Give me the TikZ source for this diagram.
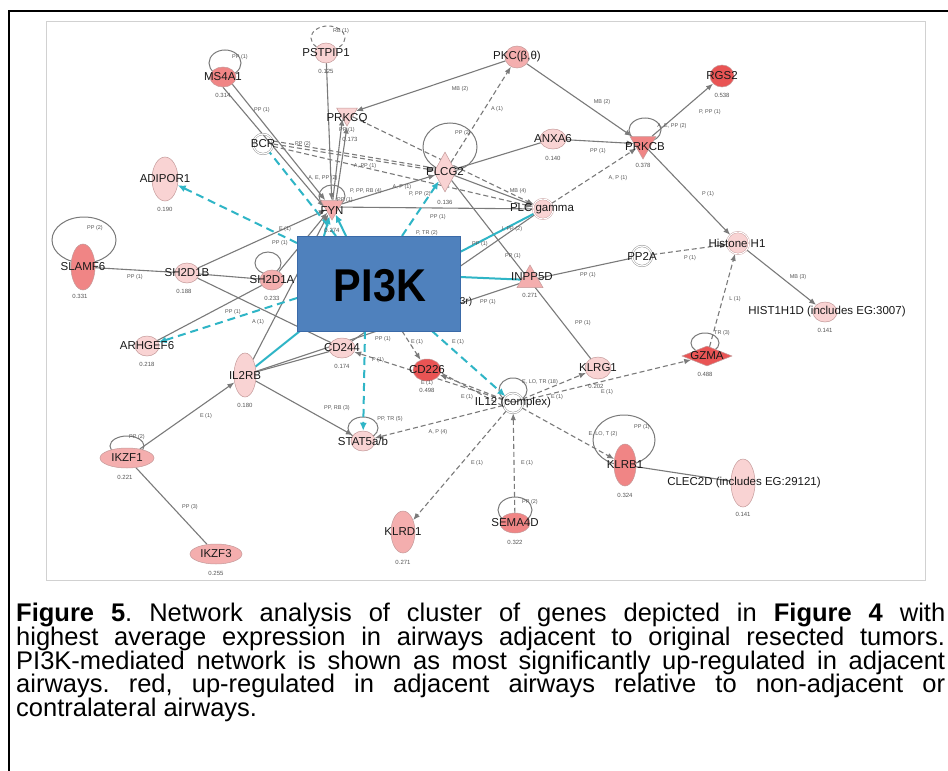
\documentclass[tikz,border=0pt]{standalone}
\usepackage{fontspec}
\setmainfont{Liberation Sans}
\frenchspacing
\usetikzlibrary{shapes.geometric,arrows.meta}
\definecolor{lp}{HTML}{F9D3D3}
\definecolor{mp}{HTML}{F4AEAE}
\definecolor{pr}{HTML}{F08585}
\definecolor{rd}{HTML}{E95454}
\definecolor{nout}{HTML}{C49A9A}
\definecolor{eg}{HTML}{7A7A7A}
\definecolor{cy}{HTML}{2FB5C6}
\definecolor{boxblue}{HTML}{4F81BD}
\definecolor{boxline}{HTML}{3A6AA8}
\definecolor{labg}{HTML}{555555}
\pgfdeclarelayer{bg}
\pgfsetlayers{bg,main}
\tikzset{
  gene/.style={ellipse, draw=nout, line width=0.5pt, inner sep=0, fill=lp},
  cplx/.style={circle, draw=eg, line width=0.4pt, double=white, double distance=1.2pt, inner sep=0, minimum size=20},
  dtri/.style={regular polygon, regular polygon sides=3, shape border rotate=180, draw=nout, line width=0.5pt, inner sep=0, fill=lp},
  utri/.style={regular polygon, regular polygon sides=3, draw=nout, line width=0.5pt, inner sep=0, fill=lp},
  dia/.style={diamond, draw=nout, line width=0.5pt, inner sep=0, fill=lp},
  glab/.style={font=\fontsize{11.5}{12}\selectfont, text=black!90, inner sep=0},
  gval/.style={font=\fontsize{6}{7}\selectfont, text=labg, inner sep=0},
  elab/.style={font=\fontsize{5.5}{6}\selectfont, text=labg, inner sep=0},
  gs/.style={draw=eg, line width=1.1pt},
  ga/.style={gs, -{Latex[length=7pt,width=5.5pt]}},
  gd/.style={gs, dash pattern=on 5pt off 3pt},
  gda/.style={gd, -{Latex[length=7pt,width=5.5pt]}},
  cs/.style={draw=cy, line width=2pt},
  cda/.style={cs, dash pattern=on 8pt off 5pt, -{Latex[length=8pt,width=7pt]}},
  cd/.style={cs, dash pattern=on 8pt off 5pt},
  loopl/.style={draw=eg, line width=1pt},
  captext/.style={font=\fontsize{25.5}{24}\selectfont, inner sep=0, anchor=base west}
}
\begin{document}
\begin{tikzpicture}[x=1pt,y=-1pt]
\useasboundingbox (0,0) rectangle (948,771);
\begin{pgfonlayer}{bg}
\fill[white] (0,0) rectangle (948,771);
\draw[black, line width=2pt] (9,11) rectangle (960,790);
\draw[black!18, line width=0.8pt] (46,21) rectangle (925,580);
\end{pgfonlayer}

% ---------- nodes ----------
\node[gene, fill=pr, minimum width=26, minimum height=20] (MS4A1) at (223,77) {};
\node[gene, minimum width=22, minimum height=20] (PSTPIP1) at (326,53) {};
\node[gene, fill=mp, minimum width=24, minimum height=22] (PKC) at (517,57) {};
\node[gene, fill=rd, minimum width=24, minimum height=22] (RGS2) at (722,76) {};
\node[dtri, minimum size=24] (PRKCQ) at (347,114) {};
\node[cplx] (BCR) at (263,144) {};
\node[gene, minimum width=26, minimum height=20] (ANXA6) at (553,139) {};
\node[dtri, fill=pr, minimum size=30] (PRKCB) at (643,144) {};
\node[gene, minimum width=26, minimum height=44] (ADIPOR1) at (165,179) {};
\node[dia, minimum width=22, minimum height=40] (PLCG2) at (445,172) {};
\node[dtri, fill=mp, minimum size=26] (FYN) at (332,207) {};
\node[circle, draw=nout, line width=0.4pt, double=white, double distance=1pt, fill=lp, inner sep=0, minimum size=20] (PLCg) at (543,209) {};
\node[circle, draw=nout, line width=0.4pt, double=white, double distance=1pt, fill=lp, inner sep=0, minimum size=22] (H1) at (738,243) {};
\node[cplx] (PP2A) at (642,256) {};
\node[gene, fill=pr, minimum width=24, minimum height=46] (SLAMF6) at (83,267) {};
\node[gene, minimum width=24, minimum height=20] (SH2D1B) at (187,273) {};
\node[gene, fill=mp, minimum width=24, minimum height=20] (SH2D1A) at (272,280) {};
\node[utri, fill=mp, minimum size=30] (INPP5D) at (530,280) {};
\node[gene, minimum width=24, minimum height=20] (HIST) at (825,312) {};
\node[gene, minimum width=24, minimum height=20] (ARHGEF6) at (147,346) {};
\node[gene, minimum width=26, minimum height=20] (CD244) at (342,348) {};
\node[gene, fill=rd, minimum width=28, minimum height=22] (CD226) at (427,370) {};
\node[dia, fill=rd, minimum width=50, minimum height=20] (GZMA) at (707,356) {};
\node[gene, minimum width=26, minimum height=22] (KLRG1) at (598,368) {};
\node[gene, minimum width=22, minimum height=44] (IL2RB) at (245,375) {};
\node[cplx] (IL12) at (513,403) {};
\node[gene, minimum width=24, minimum height=20] (STAT5) at (363,441) {};
\node[gene, fill=mp, minimum width=54, minimum height=20] (IKZF1) at (127,458) {};
\node[gene, fill=pr, minimum width=22, minimum height=42] (KLRB1) at (625,465) {};
\node[gene, minimum width=24, minimum height=48] (CLEC2D) at (743,483) {};
\node[gene, fill=pr, minimum width=30, minimum height=20] (SEMA4D) at (515,523) {};
\node[gene, fill=mp, minimum width=24, minimum height=42] (KLRD1) at (403,532) {};
\node[gene, fill=mp, minimum width=52, minimum height=20] (IKZF3) at (216,554) {};

\node[draw=boxline, line width=0.6pt, fill=boxblue, minimum width=163, minimum height=95, inner sep=0] (PI3K) at (378.5,283.5) {};
\node[font=\fontsize{46}{46}\bfseries\selectfont, inner sep=0] (PI3Kt) at (380,286) {\scalebox{0.9}[1]{PI3K}};

% anchor points on the PI3K box
\coordinate (cA) at (297,243);
\coordinate (cB) at (297,298);
\coordinate (cC) at (336,236);
\coordinate (cD) at (324,236);
\coordinate (cE) at (346,236);
\coordinate (cF) at (402,236);
\coordinate (cG) at (365,331);
\coordinate (cH) at (432,331);
\coordinate (cI) at (402,331);
\coordinate (cJ) at (460,252);
\coordinate (cK) at (460,277);
\coordinate (cL) at (300,331);

% ---------- edges ----------
\begin{pgfonlayer}{bg}
% self loops
\draw[loopl] (225,63) ellipse [x radius=16, y radius=13];
\draw[loopl, dash pattern=on 4pt off 3pt] (328,38) ellipse [x radius=17, y radius=12];
\draw[loopl] (450,147) ellipse [x radius=27, y radius=24];
\draw[loopl] (84,240) ellipse [x radius=32, y radius=23];
\draw[loopl] (268,263) ellipse [x radius=13, y radius=11];
\draw[loopl] (332,196) ellipse [x radius=13, y radius=11];
\draw[loopl] (645,130) ellipse [x radius=16, y radius=12];
\draw[loopl] (705,343) ellipse [x radius=14, y radius=10];
\draw[loopl] (513,390) ellipse [x radius=14, y radius=12];
\draw[loopl] (624,440) ellipse [x radius=31, y radius=25];
\draw[loopl] (515,510) ellipse [x radius=17, y radius=13];
\draw[loopl] (127,446) ellipse [x radius=17, y radius=10];
\draw[loopl] (363,428) ellipse [x radius=15, y radius=11];

% gray solid
\draw[ga] (MS4A1.south east) -- (FYN.north west);
\draw[ga] (MS4A1.south) -- (FYN.west);
\draw[ga] (PSTPIP1) -- (FYN);
\draw[ga] (PKC) -- (PRKCQ);
\draw[ga] (PKC) -- (PRKCB);
\draw[ga] (PRKCB) -- (RGS2);
\draw[ga] (PRKCB) -- (H1);
\draw[ga] (H1) -- (HIST);
\draw[ga] (ANXA6) -- (PRKCB);
\draw[gs] (PLCG2) -- (ANXA6);
\draw[ga] (PLCG2) -- (PLCg);
\draw[gs] (FYN) -- (PLCg);
\draw[gs] (PLCg) -- (CD244);
\draw[gs] (IL2RB) -- (INPP5D);
\draw[gs] (INPP5D) -- (PP2A);
\draw[gs] (PLCG2) -- (KLRG1);
\draw[ga] (FYN) -- (PRKCQ.south west);
\draw[ga] ([xshift=4]FYN.north) -- (PRKCQ.south);
\draw[ga] (FYN) -- (PLCG2);
\draw[gs] (SLAMF6) -- (SH2D1B);
\draw[gs] (SH2D1B) -- (SH2D1A);
\draw[ga] (SH2D1B) -- (FYN);
\draw[gs] (SH2D1B) -- (CD244);
\draw[gs] (ARHGEF6) -- (SH2D1A);
\draw[ga] (SH2D1A) -- (FYN);
\draw[ga] (IL2RB) -- (FYN);
\draw[gs] (IL2RB) -- (CD244);
\draw[ga] (IL2RB) -- (STAT5);
\draw[ga] (IKZF1) -- (IL2RB);
\draw[gs] (IKZF1) -- (IKZF3);
\draw[gs] (KLRB1) -- (CLEC2D);
% gray dashed
\draw[gda] (PLCG2) -- (PKC);
\draw[gda] (PP2A) -- (H1);
\draw[gda] (GZMA) -- (H1);
\draw[gda] (PLCg) -- (PRKCB);
\draw[gda] (PRKCQ) -- (PLCg);
\draw[gda] (BCR) -- (PLCg);
\draw[gda] (BCR.east) -- (PLCG2);
\draw[gd] ([yshift=3]BCR.east) -- ([yshift=4]PLCG2.west);
\draw[gda] (cI) -- (CD226);
\draw[gda] (IL12) -- (CD226);
\draw[gd] ([yshift=-3]IL12.west) -- ([yshift=-3]CD226.east);
\draw[gda] (IL12) -- (CD244);
\draw[gda] (IL12) -- (KLRG1);
\draw[gda] (IL12) -- (GZMA);
\draw[gda] (IL12) -- (KLRB1);
\draw[gda] (IL12) -- (KLRD1);
\draw[gda] (SEMA4D) -- (IL12);
\draw[gda] (IL12) -- (STAT5);
% cyan
\draw[cs] (cJ) -- (PLCg);
\draw[cs] (cK) -- (INPP5D);
\draw[cs] (cL) -- (IL2RB);
\draw[cs, -{Latex[length=8pt,width=7pt]}] (cD) -- (FYN);
\draw[cs, -{Latex[length=8pt,width=7pt]}] (cE) -- (FYN);
\draw[cd] (cC) -- (BCR);
\draw[cda] (cA) -- (ADIPOR1);
\draw[cda] (cB) -- (ARHGEF6);
\draw[cda] (cF) -- (PLCG2);
\draw[cda] (cG) -- (STAT5);
\draw[cda] (cH) -- (IL12);
\end{pgfonlayer}

% ---------- gene labels ----------
\node[glab] (MS4A1-l) at (223,77) {MS4A1};
\node[glab] (PSTPIP1-l) at (326,53) {PSTPIP1};
\node[glab] (PKC-l) at (517,57) {PKC(β,θ)};
\node[glab] (RGS2-l) at (722,76) {RGS2};
\node[glab] (PRKCQ-l) at (347,119) {PRKCQ};
\node[glab] (BCR-l) at (263,144) {BCR};
\node[glab] (ANXA6-l) at (553,139) {ANXA6};
\node[glab] (PRKCB-l) at (645,147) {PRKCB};
\node[glab] (ADIPOR1-l) at (165,179) {ADIPOR1};
\node[glab] (PLCG2-l) at (445,172) {PLCG2};
\node[glab] (FYN-l) at (332,211) {FYN};
\node[glab] (PLCg-l) at (542,209) {PLC gamma};
\node[glab] (H1-l) at (737,243) {Histone H1};
\node[glab] (PP2A-l) at (642,256) {PP2A};
\node[glab] (SLAMF6-l) at (83,267) {SLAMF6};
\node[glab] (SH2D1B-l) at (187,273) {SH2D1B};
\node[glab] (SH2D1A-l) at (272,280) {SH2D1A};
\node[glab] (INPP5D-l) at (532,277) {INPP5D};
\node[glab] (HIST-l) at (827,312) {HIST1H1D (includes EG:3007)};
\node[glab] (ARHGEF6-l) at (147,346) {ARHGEF6};
\node[glab] (CD244-l) at (342,348) {CD244};
\node[glab] (CD226-l) at (427,370) {CD226};
\node[glab] (GZMA-l) at (707,356) {GZMA};
\node[glab] (KLRG1-l) at (598,368) {KLRG1};
\node[glab] (IL2RB-l) at (245,375) {IL2RB};
\node[glab] (IL12-l) at (513,403) {IL12 (complex)};
\node[glab] (STAT5-l) at (363,441) {STAT5a/b};
\node[glab] (IKZF1-l) at (127,458) {IKZF1};
\node[glab] (KLRB1-l) at (625,465) {KLRB1};
\node[glab] (CLEC2D-l) at (744,483) {CLEC2D (includes EG:29121)};
\node[glab] (SEMA4D-l) at (515,523) {SEMA4D};
\node[glab] (KLRD1-l) at (403,532) {KLRD1};
\node[glab] (IKZF3-l) at (216,554) {IKZF3};
\node[glab, font=\fontsize{10}{10}\selectfont] (frag) at (466,302) {3r)};

% ---------- values ----------
\node[gval] (v1) at (223,95) {0.314};
\node[gval] (v2) at (326,71) {0.125};
\node[gval] (v3) at (350,139) {0.173};
\node[gval] (v4) at (722,95) {0.538};
\node[gval] (v5) at (553,158) {0.140};
\node[gval] (v6) at (643,165) {0.378};
\node[gval] (v7) at (165,209) {0.190};
\node[gval] (v8) at (445,202) {0.136};
\node[gval] (v9) at (332,230) {0.274};
\node[gval] (v10) at (80,296) {0.331};
\node[gval] (v11) at (184,291) {0.188};
\node[gval] (v12) at (272,298) {0.233};
\node[gval] (v13) at (530,295) {0.271};
\node[gval] (v14) at (825,330) {0.141};
\node[gval] (v15) at (147,364) {0.218};
\node[gval] (v16) at (342,366) {0.174};
\node[gval] (v17) at (427,390) {0.498};
\node[gval] (v18) at (705,374) {0.488};
\node[gval] (v19) at (596,386) {0.202};
\node[gval] (v20) at (245,405) {0.180};
\node[gval] (v21) at (125,477) {0.221};
\node[gval] (v22) at (625,495) {0.324};
\node[gval] (v23) at (743,514) {0.141};
\node[gval] (v24) at (515,542) {0.322};
\node[gval] (v25) at (403,562) {0.271};
\node[gval] (v26) at (216,573) {0.255};

% ---------- edge labels ----------
\node[elab] at (240,57) {PP (1)};
\node[elab] at (341,31) {RB (1)};
\node[elab] at (262,110) {PP (1)};
\node[elab] at (460,89) {MB (2)};
\node[elab] at (497,109) {A (1)};
\node[elab] at (602,102) {MB (2)};
\node[elab] at (710,112) {P, PP (1)};
\node[elab] at (672,126) {A, E, PP (2)};
\node[elab] at (598,151) {PP (1)};
\node[elab] at (618,178) {A, P (1)};
\node[elab] at (708,194) {P (1)};
\node[elab] at (518,191) {MB (4)};
\node[elab] at (512,229) {I, PP (2)};
\node[elab] at (480,244) {PP (1)};
\node[elab] at (513,256) {PP (1)};
\node[elab] at (588,275) {PP (1)};
\node[elab] at (690,258) {P (1)};
\node[elab] at (798,277) {MB (3)};
\node[elab] at (735,299) {L (1)};
\node[elab] at (722,333) {TR (3)};
\node[elab] at (583,323) {PP (1)};
\node[elab] at (540,382) {E, LO, TR (18)};
\node[elab] at (557,397) {E (1)};
\node[elab] at (607,392) {E (1)};
\node[elab] at (603,434) {E, LO, T (2)};
\node[elab] at (642,427) {PP (1)};
\node[elab] at (527,463) {E (1)};
\node[elab] at (477,463) {E (1)};
\node[elab] at (530,502) {PP (2)};
\node[elab] at (438,432) {A, P (4)};
\node[elab] at (390,419) {PP, TR (5)};
\node[elab] at (337,408) {PP, RB (3)};
\node[elab] at (206,416) {E (1)};
\node[elab] at (137,437) {PP (2)};
\node[elab] at (190,507) {PP (3)};
\node[elab] at (233,312) {PP (1)};
\node[elab] at (258,322) {A (1)};
\node[elab] at (383,339) {PP (1)};
\node[elab] at (417,342) {E (1)};
\node[elab] at (458,342) {E (1)};
\node[elab] at (378,360) {P (1)};
\node[elab] at (467,397) {E (1)};
\node[elab] at (427,383) {E (1)};
\node[elab] at (95,228) {PP (2)};
\node[elab] at (135,277) {PP (1)};
\node[elab] at (303,144) {PP (2)};
\node[elab] at (323,178) {A, E, PP (2)};
\node[elab] at (365,166) {A, PP (1)};
\node[elab] at (366,191) {P, PP, RB (4)};
\node[elab] at (402,187) {A, P (1)};
\node[elab] at (420,194) {P, PP (2)};
\node[elab] at (345,200) {PP (1)};
\node[elab] at (438,217) {PP (1)};
\node[elab] at (427,233) {P, TR (2)};
\node[elab] at (347,130) {PP (1)};
\node[elab] at (285,229) {E (1)};
\node[elab] at (280,243) {PP (1)};
\node[elab] at (463,133) {PP (2)};
\node[elab] at (488,302) {PP (1)};

% ---------- caption ----------
\node[captext] (c1) at (16,621) {\makebox[929pt][s]{\textbf{Figure 5}. Network analysis of cluster of genes depicted in \textbf{Figure 4} with}};
\node[captext] (c2) at (16,645) {\makebox[929pt][s]{highest average expression in airways adjacent to original resected tumors.}};
\node[captext] (c3) at (16,669) {\makebox[929pt][s]{PI3K-mediated network is shown as most significantly up-regulated in adjacent}};
\node[captext] (c4) at (16,692) {\makebox[929pt][s]{airways. red, up-regulated in adjacent airways relative to non-adjacent or}};
\node[captext] (c5) at (16,716) {contralateral airways.};
\end{tikzpicture}
\end{document}
